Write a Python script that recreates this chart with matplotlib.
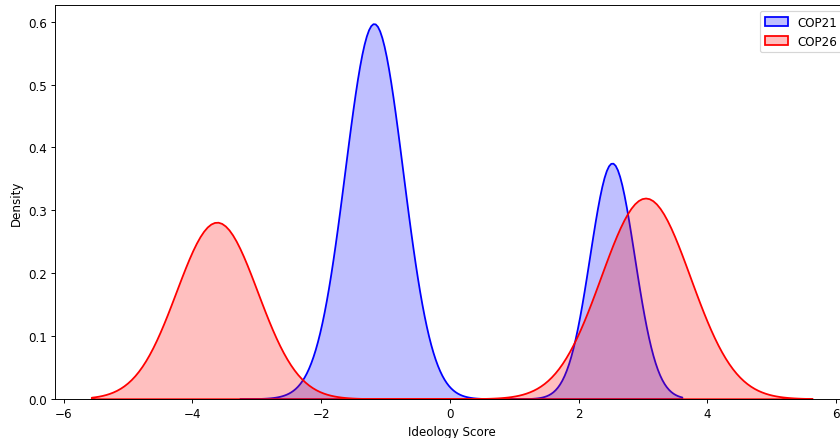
import numpy as np
import matplotlib
matplotlib.use("Agg")
import matplotlib.pyplot as plt
import seaborn as sns

# ideology scores and how many responses sit at each score
cop21_scores = [-2.23, -1.98, -1.78, -1.58, -1.38, -1.18, -0.98, -0.78, -0.58, -0.38,
                2.47, 2.52, 2.57]
cop21_counts = [1, 2, 12, 38, 79, 100, 79, 38, 12, 2,
                18, 139, 18]

cop26_scores = [-3.68, -3.62, -3.56,
                2.34, 2.54, 2.74, 2.94, 3.14, 3.34, 3.54, 3.74]
cop26_counts = [10, 60, 10,
                2, 6, 16, 26, 26, 16, 6, 2]

series = [("COP21", cop21_scores, cop21_counts, "blue", 0.345),
          ("COP26", cop26_scores, cop26_counts, "red", 0.63)]

# the reference was a 12x6 figure shrunk to ~85 dpi and cropped
dpi = 85.3
fig = plt.figure(figsize=(840 / dpi, 439 / dpi), dpi=dpi)
ax = fig.add_axes([0.0658, 0.0895, 0.944, 0.897])

for name, scores, counts, color, bw in series:
    x = np.repeat(scores, counts)
    # kernel width in score units -> factor of the sample spread
    sd = np.std(x, ddof=1)
    sns.kdeplot(x=x, bw_method=bw / sd, fill=True, color=color, label=name,
                linewidth=1.5, ax=ax)

ax.set_xlabel("Ideology Score")
ax.set_ylabel("Density")
ax.legend(loc="upper right")

fig.savefig("out.png", dpi=dpi)
